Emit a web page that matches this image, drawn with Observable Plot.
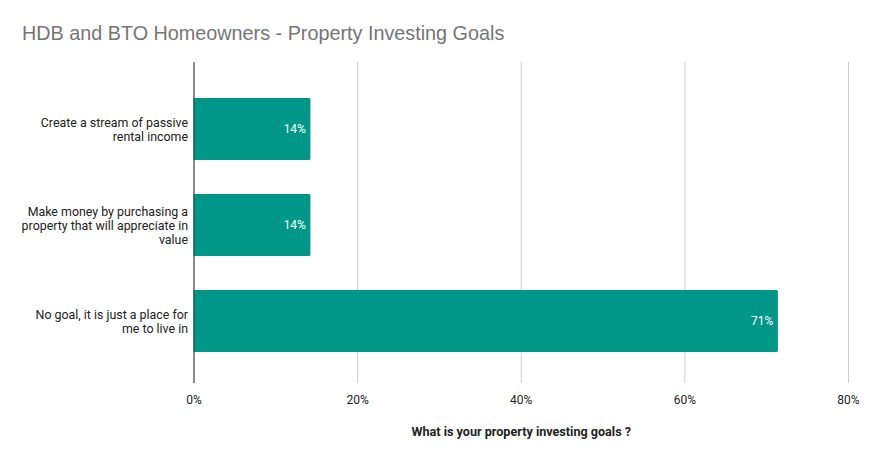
<!DOCTYPE html>
<html>
<head>
<meta charset="utf-8">
<script src="https://cdn.jsdelivr.net/npm/d3@7"></script>
<script src="https://cdn.jsdelivr.net/npm/@observablehq/plot@0.6"></script>
<style>
  body { margin: 0; background: #fff; font-family: Roboto, Arial, sans-serif; }
  #title { height: 50px; box-sizing: border-box; padding: 23px 0 0 22px; font-size: 19.8px; color: #757575; font-family: Arial, "Liberation Sans", sans-serif; line-height: 20px; }
  g[aria-label="x-axis label"] text { font-weight: bold; font-size: 12.6px; }
</style>
</head>
<body>
<div id="title">HDB and BTO Homeowners - Property Investing Goals</div>
<div id="chart"></div>
<script>
const categories = [
  "Create a stream of passive rental income",
  "Make money by purchasing a property that will appreciate in value",
  "No goal, it is just a place for me to live in"
];
const categoryLabels = [
  "Create a stream of passive\nrental income",
  "Make money by purchasing a\nproperty that will appreciate in\nvalue",
  "No goal, it is just a place for\nme to live in"
];
const shares = [0.1429, 0.1429, 0.7143];
const xTicks = [0, 0.2, 0.4, 0.6, 0.8];
const xTitle = "What is your property investing goals ?";

const data = categories.map((c, i) => ({category: c, label: categoryLabels[i], value: shares[i]}));
const labelOf = new Map(data.map(d => [d.category, d.label]));
const pct = d3.format(".0%");

const chart = Plot.plot({
  width: 872,
  height: 411,
  marginTop: 12,
  marginBottom: 78,
  marginLeft: 193.5,
  marginRight: 24,
  style: {fontFamily: "Roboto, Arial, sans-serif", fontSize: "12px", color: "#222"},
  x: {domain: [0, 0.8]},
  y: {domain: categories, paddingInner: 0.357, paddingOuter: 0.342, align: 0.53},
  marks: [
    Plot.gridX(xTicks, {stroke: "#cccccc", strokeOpacity: 1}),
    Plot.axisX(xTicks, {tickSize: 0, tickPadding: 12, tickFormat: pct, fontSize: 12,
      label: xTitle, labelAnchor: "center", labelArrow: "none", labelOffset: 52}),
    Plot.axisY({tickSize: 0, tickPadding: 6, tickFormat: d => labelOf.get(d), lineHeight: 1.14, fontSize: 12.4, label: null}),
    Plot.barX(data, {x: "value", y: "category", fill: "#009688", rx: 1.5}),
    Plot.ruleX([0], {stroke: "#333"}),
    Plot.text(data, {x: "value", y: "category", text: d => pct(d.value), textAnchor: "end", dx: -5, fill: "white", fontSize: 12})
  ]
});
document.getElementById("chart").appendChild(chart);
</script>
</body>
</html>
